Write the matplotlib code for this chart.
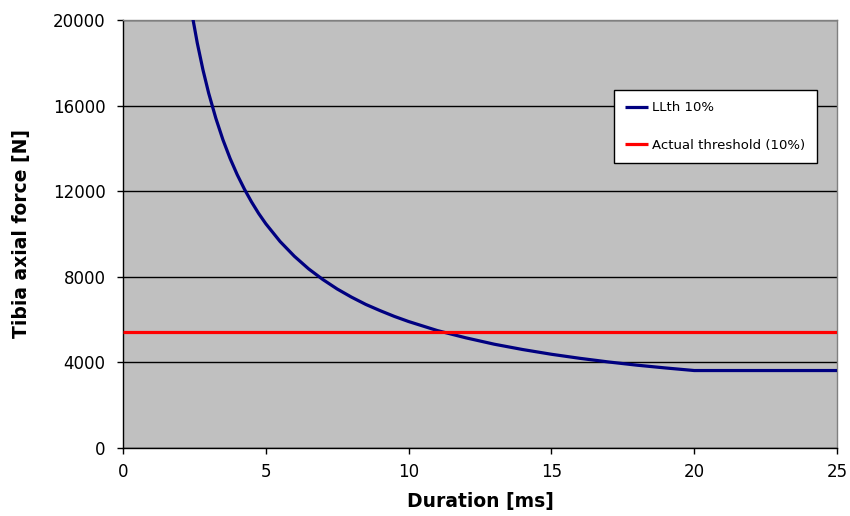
import matplotlib
matplotlib.use("Agg")
import matplotlib.pyplot as plt

# LLth 10% curve: tibia axial force vs. load duration
duration_ms = [2.4, 2.6, 2.8, 3.0, 3.25, 3.5, 3.75, 4.0, 4.25, 4.5, 4.75, 5.0,
               5.5, 6.0, 6.5, 7.0, 7.5, 8.0, 8.5, 9.0, 9.5, 10.0, 11.0, 12.0,
               13.0, 14.0, 15.0, 16.0, 17.0, 18.0, 19.0, 20.0, 25.0]
llth_force_n = [20400, 18930, 17670, 16580, 15410, 14400, 13530, 12770, 12100,
                11500, 10960, 10480, 9650, 8960, 8370, 7870, 7430, 7050, 6710,
                6420, 6150, 5910, 5490, 5150, 4850, 4600, 4380, 4190, 4020,
                3870, 3740, 3620, 3620]

# Actual threshold (10%) – constant force level
threshold_duration_ms = [0, 25]
threshold_force_n = [5400, 5400]

x_ticks = [0, 5, 10, 15, 20, 25]
y_ticks = [0, 4000, 8000, 12000, 16000, 20000]

plt.rcParams["font.family"] = ["DejaVu Sans"]

fig = plt.figure(figsize=(8.5, 5.16), dpi=100)
fig.patch.set_facecolor("white")
ax = fig.add_axes([123 / 850, 1 - 448 / 516, (837 - 123) / 850, (448 - 20) / 516])
ax.set_facecolor("#C0C0C0")

ax.set_xlim(0, 25)
ax.set_ylim(0, 20000)
ax.set_xticks(x_ticks)
ax.set_yticks(y_ticks)
ax.set_xticklabels([str(v) for v in x_ticks])
ax.set_yticklabels([str(v) for v in y_ticks])

ax.yaxis.grid(True, color="black", linewidth=1.0)
ax.xaxis.grid(False)
ax.set_axisbelow(True)

ax.plot(duration_ms, llth_force_n, color="#000080", linewidth=2.3,
        label="LLth 10%", solid_capstyle="butt", solid_joinstyle="round", zorder=3)
ax.plot(threshold_duration_ms, threshold_force_n, color="#FF0000", linewidth=2.3,
        label="Actual threshold (10%)", solid_capstyle="butt", zorder=3)

for side in ("top", "right"):
    ax.spines[side].set_color("#808080")
    ax.spines[side].set_linewidth(1.0)
for side in ("left", "bottom"):
    ax.spines[side].set_color("black")
    ax.spines[side].set_linewidth(1.0)

ax.tick_params(axis="both", direction="out", length=4.5, width=1.0,
               colors="black", labelsize=12)
ax.tick_params(axis="y", pad=8)
ax.tick_params(axis="x", pad=6)

ax.set_xlabel("Duration [ms]", fontsize=13.5, fontweight="bold", labelpad=8)
ax.set_ylabel("Tibia axial force [N]", fontsize=13.5, fontweight="bold", labelpad=16)

leg = ax.legend(loc="upper left", bbox_to_anchor=(614 / 850, 1 - 90 / 516),
                bbox_transform=fig.transFigure, fontsize=9.5, frameon=True,
                fancybox=False, shadow=False, borderpad=0.85, labelspacing=1.85,
                handlelength=1.7, handletextpad=0.35, borderaxespad=0.0)
frame = leg.get_frame()
frame.set_facecolor("white")
frame.set_edgecolor("black")
frame.set_linewidth(1.0)
frame.set_alpha(1.0)

fig.savefig("out.png", dpi=100, facecolor="white")
